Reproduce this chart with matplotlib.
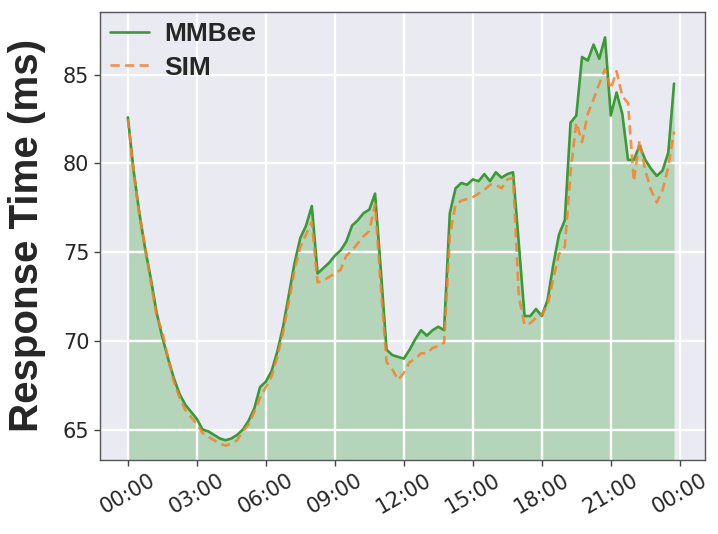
import numpy as np
import matplotlib.pyplot as plt
import seaborn as sns

# response time sampled every 15 minutes over one day
hours = np.arange(96) * 0.25

mmbee = [82.6, 79.6, 77.2, 75.2, 73.5, 71.6, 70.2, 69.0,
         67.9, 67.0, 66.4, 66.0, 65.6, 65.0, 64.9, 64.7,
         64.5, 64.4, 64.5, 64.7, 65.0, 65.5, 66.2, 67.4,
         67.7, 68.3, 69.4, 70.8, 72.6, 74.4, 75.8, 76.5,
         77.6, 73.8, 74.1, 74.4, 74.8, 75.1, 75.6, 76.5,
         76.8, 77.2, 77.4, 78.3, 74.0, 69.5, 69.2, 69.1,
         69.0, 69.5, 70.1, 70.6, 70.3, 70.6, 70.8, 70.6,
         77.2, 78.6, 78.9, 78.8, 79.1, 79.0, 79.4, 79.0,
         79.5, 79.2, 79.4, 79.5, 75.5, 71.4, 71.4, 71.8,
         71.4, 72.3, 74.3, 76.0, 76.8, 82.3, 82.7, 86.0,
         85.8, 86.7, 85.9, 87.1, 82.7, 84.0, 82.8, 80.2,
         80.2, 81.0, 80.2, 79.7, 79.3, 79.6, 80.6, 84.5]

sim = [82.5, 79.5, 77.1, 75.3, 73.3, 71.4, 70.5, 69.0,
       67.7, 66.8, 66.1, 65.7, 65.3, 64.8, 64.6, 64.4,
       64.2, 64.1, 64.2, 64.4, 64.9, 65.3, 66.0, 66.8,
       67.4, 68.0, 69.1, 70.5, 72.2, 74.0, 75.3, 76.0,
       76.7, 73.3, 73.4, 73.6, 73.8, 74.0, 74.8, 75.1,
       75.5, 75.9, 76.2, 77.7, 73.0, 68.8, 68.4, 67.8,
       68.2, 68.8, 69.0, 69.3, 69.3, 69.6, 69.7, 69.9,
       75.9, 77.7, 77.9, 78.0, 78.1, 78.3, 78.5, 78.8,
       78.8, 78.6, 79.1, 79.2, 72.5, 70.9, 71.0, 71.3,
       71.5, 72.0, 73.5, 74.9, 75.3, 79.5, 82.3, 81.2,
       82.8, 83.6, 84.5, 85.3, 84.2, 85.2, 83.8, 83.4,
       79.0, 81.3, 79.6, 78.5, 77.8, 78.5, 79.8, 81.8]

tick_hours = [0, 3, 6, 9, 12, 15, 18, 21, 24]
tick_labels = ["00:00", "03:00", "06:00", "09:00", "12:00",
               "15:00", "18:00", "21:00", "00:00"]
y_ticks = [65, 70, 75, 80, 85]

sns.set_style("darkgrid")
plt.rcParams['font.family'] = ['DejaVu Sans']
plt.rcParams['grid.linewidth'] = 1.7

fig = plt.figure(figsize=(7.18, 5.34), dpi=100)
ax = fig.add_axes([0.139, 0.139, 0.843, 0.839])
ax.set_axisbelow("line")  # white grid over the fill, under the lines

ymin = 63.3
ax.fill_between(hours, mmbee, ymin, color="#2ca02c", alpha=0.28,
                linewidth=0, zorder=1)
ax.plot(hours, mmbee, color="#3a9a35", lw=1.9, label="MMBee", zorder=3)
ax.plot(hours, sim, color="#f5822a", lw=1.9, ls="--", dashes=(3.5, 2),
        alpha=0.85, label="SIM", zorder=3)

ax.set_xlim(-1.22, 25.1)
ax.set_ylim(ymin, 88.55)
ax.set_xticks(tick_hours)
ax.set_xticklabels(tick_labels, rotation=30, fontsize=15)
ax.set_yticks(y_ticks)
ax.tick_params(axis="y", labelsize=15)
ax.tick_params(axis="both", which="major", length=4, width=1, color="#444444",
               labelcolor="#262626", bottom=True, left=True)

for s in ax.spines.values():
    s.set_visible(True)
    s.set_color("#555555")
    s.set_linewidth(1)

ax.set_ylabel("Response Time (ms)", fontsize=29, fontweight="bold",
              family="Liberation Sans", labelpad=12)

leg = ax.legend(loc="upper left", frameon=False, handlelength=1.45,
                handletextpad=0.6,
                prop={"family": "Liberation Sans", "weight": "bold", "size": 19},
                borderaxespad=0.1, borderpad=0.3, labelspacing=0.35)

fig.savefig("out.png", dpi=100)
